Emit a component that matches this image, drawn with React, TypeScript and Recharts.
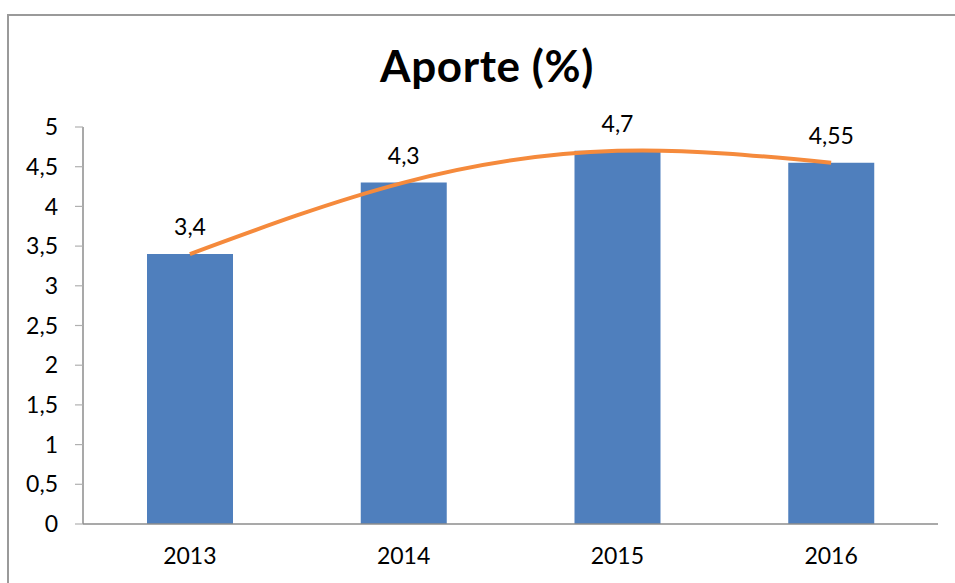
import React from "react";
import { ComposedChart, Bar, Line, XAxis, YAxis, LabelList } from "recharts";

const years = ["2013", "2014", "2015", "2016"];
const aporte = [3.4, 4.3, 4.7, 4.55];
const yTicks = [0, 0.5, 1, 1.5, 2, 2.5, 3, 3.5, 4, 4.5, 5];
const boundaryTicks = [0, 1, 2, 3, 4];
const title = "Aporte (%)";

const data = years.map((y, i) => ({ year: y, idx: i + 0.5, value: aporte[i], trend: aporte[i] }));

const FONT = "Lato, 'Open Sans', sans-serif";
const fmt = (v: number) => String(v).replace(".", ",");

export default function App() {
  return (
    <div
      style={{
        position: "absolute",
        left: 0,
        top: 0,
        width: 955,
        height: 583,
        fontFamily: FONT,
        background: "#fff",
        overflow: "hidden",
      }}
    >
      <div
        style={{
          position: "absolute",
          left: 7,
          top: 14,
          right: -30,
          bottom: -30,
          borderTop: "2px solid #9a9a9a",
          borderLeft: "2px solid #9a9a9a",
        }}
      />
      <div
        style={{
          position: "absolute",
          left: 287,
          width: 400,
          top: 39,
          textAlign: "center",
          fontSize: 44,
          fontWeight: 700,
          letterSpacing: 0.6,
          lineHeight: "52px",
          color: "#000",
          fontFamily: FONT,
        }}
      >
        {title}
      </div>
      <div style={{ position: "absolute", left: 8, top: 8 }}>
        <ComposedChart width={947} height={575} data={data} margin={{ top: 119, right: 17, left: 0, bottom: 0 }}>
          <XAxis
            dataKey="year"
            xAxisId="cat"
            height={59}
            tickLine={false}
            tickSize={0}
            tickMargin={24}
            axisLine={{ stroke: "#8c8c8c", strokeWidth: 1.5 }}
            tick={{ fill: "#000", fontSize: 23, fontFamily: FONT }}
          />
          <XAxis
            xAxisId="num"
            type="number"
            dataKey="idx"
            domain={[0, 4]}
            ticks={boundaryTicks}
            height={0}
            axisLine={false}
            tick={false}
            tickSize={9}
            tickLine={{ stroke: "#9a9a9a", strokeWidth: 1.2 }}
          />
          <YAxis
            domain={[0, 5]}
            ticks={yTicks}
            width={75}
            tickSize={8}
            tickMargin={17}
            tickFormatter={fmt}
            axisLine={{ stroke: "#8c8c8c", strokeWidth: 1.5 }}
            tickLine={{ stroke: "#b0b0b0", strokeWidth: 1.2 }}
            tick={{ fill: "#000", fontSize: 23, fontFamily: FONT }}
          />
          <Bar dataKey="value" xAxisId="cat" fill="#4F7FBD" barSize={86} isAnimationActive={false}>
            <LabelList
              dataKey="value"
              position="top"
              offset={19}
              formatter={fmt}
              style={{ fill: "#000", fontSize: 23, fontFamily: FONT }}
            />
          </Bar>
          <Line
            dataKey="trend"
            xAxisId="num"
            type="natural"
            stroke="#F58A3C"
            strokeWidth={4}
            dot={false}
            activeDot={false}
            isAnimationActive={false}
          />
        </ComposedChart>
      </div>
    </div>
  );
}
